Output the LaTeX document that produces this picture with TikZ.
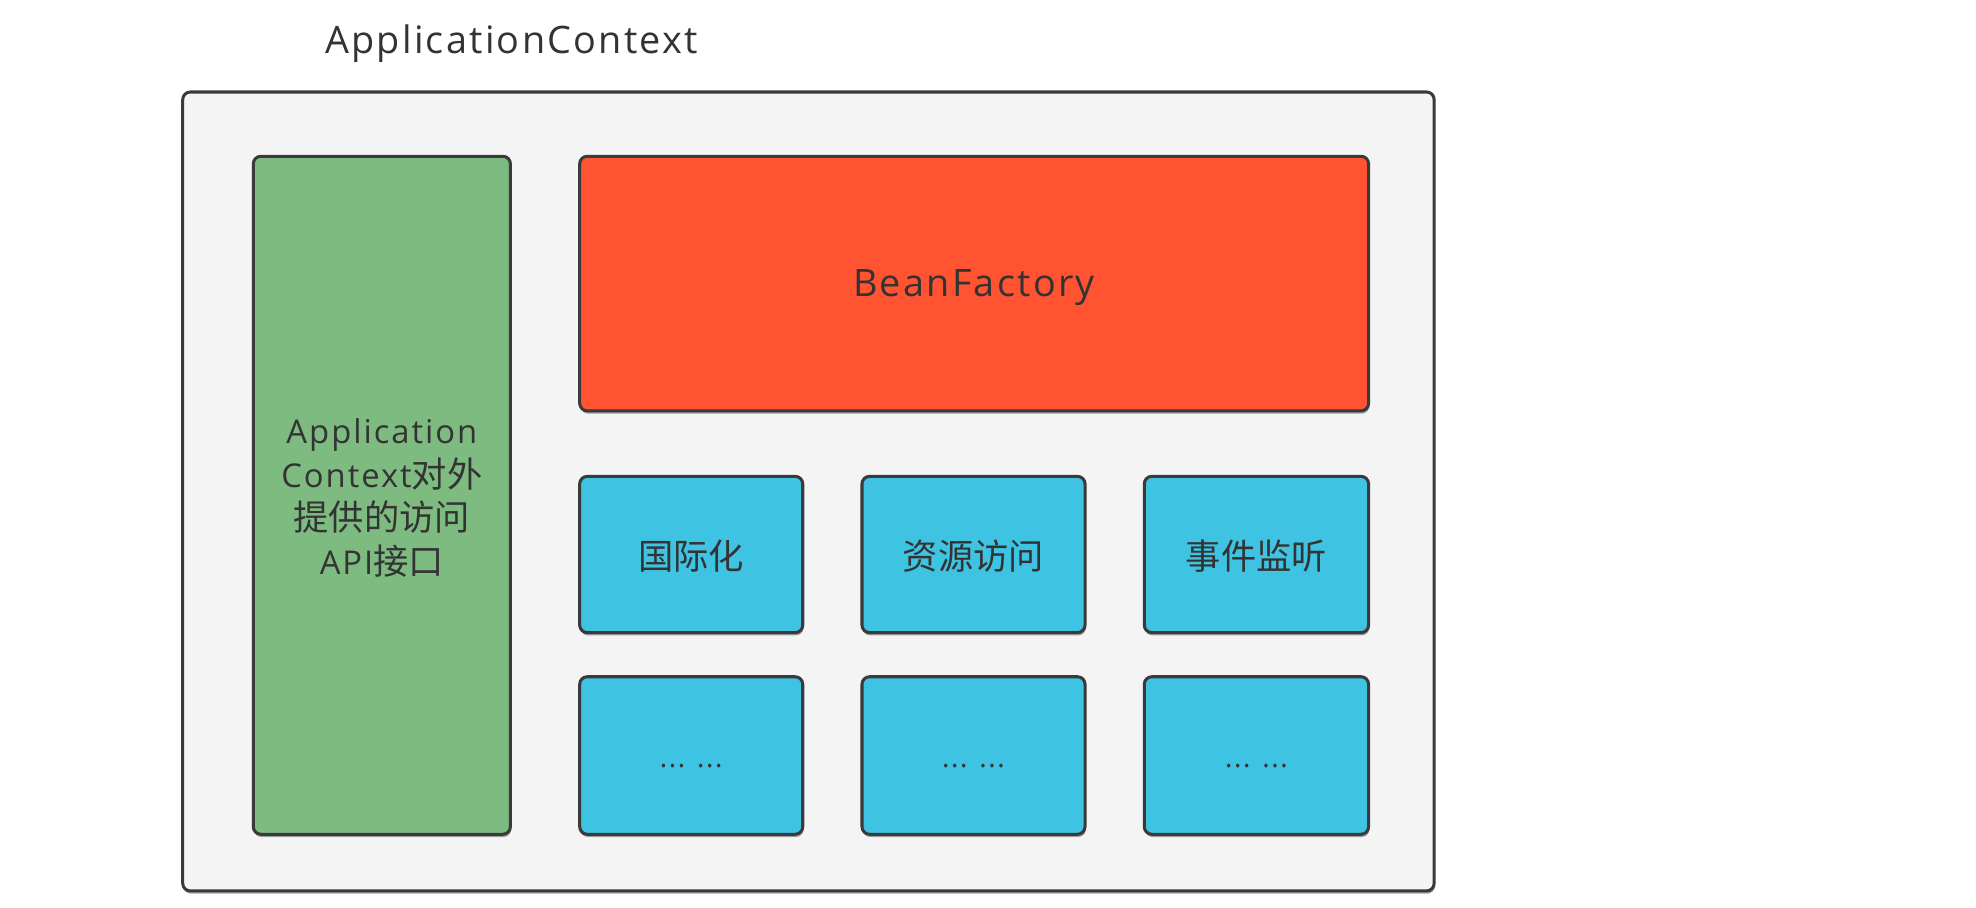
\documentclass[tikz,border=0pt]{standalone}
\usepackage{fontspec}
\setmainfont{Open Sans}[LetterSpace=6]
\newfontfamily\cjk{Noto Sans CJK SC}
\newcommand\zh[1]{{\cjk\fontsize{28}{34.5}\selectfont #1}}
\usetikzlibrary{shadows}
\definecolor{txt}{HTML}{333333}
\definecolor{edge}{HTML}{3A3A3A}
\definecolor{panel}{HTML}{F4F4F4}
\definecolor{grn}{HTML}{7DBB80}
\definecolor{rd}{HTML}{FF5332}
\definecolor{blu}{HTML}{3EC3E3}
\tikzset{
  box/.style={draw=edge, line width=2.4pt, rounded corners=6pt,
    drop shadow={shadow xshift=0.6pt, shadow yshift=-2.2pt, opacity=0.35, fill=black}},
  lbl/.style={text=txt, font=\fontsize{26}{34.5}\selectfont, align=center},
  dots/.style={lbl, font=\fontsize{22}{26}\selectfont},
}
\begin{document}
\begin{tikzpicture}[x=1pt,y=-1pt]
\useasboundingbox (0,0) rectangle (1568,720);
\fill[white] (0,0) rectangle (1568,720);
\node[lbl, font=\fontsize{30}{36}\selectfont] (title) at (406,35) {ApplicationContext};
\draw[box, fill=panel] (145,73) rectangle (1138,707);
% green
\draw[box, fill=grn] (201,124) rectangle (405,662);
\node[lbl] (api) at (303,395) {Application\\Context\zh{对外}\\\zh{提供的访问}\\API\zh{接口}};
% red
\draw[box, fill=rd] (460,124) rectangle (1086,326);
\node[lbl, font=\fontsize{30}{36}\selectfont] (bf) at (773,228) {BeanFactory};
% blue row 1
\draw[box, fill=blu] (460,378) rectangle (637,502);
\node[lbl] (i18n) at (548.5,441) {\zh{国际化}};
\draw[box, fill=blu] (684,378) rectangle (861,502);
\node[lbl] (res) at (772.5,441) {\zh{资源访问}};
\draw[box, fill=blu] (908,378) rectangle (1086,502);
\node[lbl] (evt) at (997,441) {\zh{事件监听}};
% blue row 2
\draw[box, fill=blu] (460,537) rectangle (637,662);
\node[dots] (d1) at (548.5,608) {... ...};
\draw[box, fill=blu] (684,537) rectangle (861,662);
\node[dots] (d2) at (772.5,608) {... ...};
\draw[box, fill=blu] (908,537) rectangle (1086,662);
\node[dots] (d3) at (997,608) {... ...};
\end{tikzpicture}
\end{document}
